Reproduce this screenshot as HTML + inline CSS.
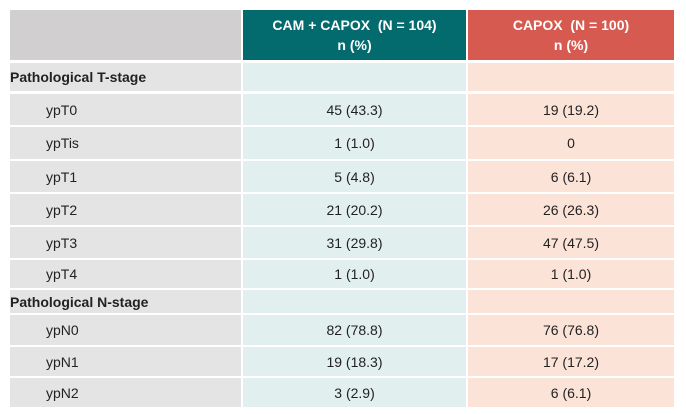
<!DOCTYPE html>
<html><head><style>
body{margin:0;width:686px;height:414px;background:#fff;position:relative;font-family:"Liberation Sans",sans-serif;overflow:hidden}
.c{position:absolute;display:flex;align-items:center;justify-content:center;font-size:14px;color:#222;box-sizing:border-box}
.a{left:10px;width:231px;justify-content:flex-start;background:#e4e4e4}
.b{left:243px;width:223px;background:#e2efef}
.d{left:468px;width:206px;background:#fbe3d8}
.h{font-weight:bold}
.hd{display:block;text-align:center;padding-top:5px;line-height:20px;color:#fff;font-weight:bold}
</style></head><body>
<div class="c a" style="top:10px;height:50px;background:#d1cfd0"></div>
<div class="c b hd" style="top:10px;height:50px;background:#036b6e">CAM + CAPOX&nbsp; (N = 104)<br>n (%)</div>
<div class="c d hd" style="top:10px;height:50px;background:#d65a50">CAPOX&nbsp; (N = 100)<br>n (%)</div>

<div class="c a h" style="top:63px;height:28px">Pathological T-stage</div><div class="c b" style="top:63px;height:28px"></div><div class="c d" style="top:63px;height:28px"></div>
<div class="c a" style="top:94px;height:31px;padding-left:36px">ypT0</div><div class="c b" style="top:94px;height:31px">45 (43.3)</div><div class="c d" style="top:94px;height:31px">19 (19.2)</div>
<div class="c a" style="top:127px;height:32px;padding-left:36px">ypTis</div><div class="c b" style="top:127px;height:32px">1 (1.0)</div><div class="c d" style="top:127px;height:32px">0</div>
<div class="c a" style="top:161px;height:31px;padding-left:36px">ypT1</div><div class="c b" style="top:161px;height:31px">5 (4.8)</div><div class="c d" style="top:161px;height:31px">6 (6.1)</div>
<div class="c a" style="top:194px;height:31px;padding-left:36px">ypT2</div><div class="c b" style="top:194px;height:31px">21 (20.2)</div><div class="c d" style="top:194px;height:31px">26 (26.3)</div>
<div class="c a" style="top:227px;height:31px;padding-left:36px">ypT3</div><div class="c b" style="top:227px;height:31px">31 (29.8)</div><div class="c d" style="top:227px;height:31px">47 (47.5)</div>
<div class="c a" style="top:260px;height:28px;padding-left:36px">ypT4</div><div class="c b" style="top:260px;height:28px">1 (1.0)</div><div class="c d" style="top:260px;height:28px">1 (1.0)</div>
<div class="c a h" style="top:290px;height:23px">Pathological N-stage</div><div class="c b" style="top:290px;height:23px"></div><div class="c d" style="top:290px;height:23px"></div>
<div class="c a" style="top:315px;height:30px;padding-left:36px">ypN0</div><div class="c b" style="top:315px;height:30px">82 (78.8)</div><div class="c d" style="top:315px;height:30px">76 (76.8)</div>
<div class="c a" style="top:347px;height:29px;padding-left:36px">ypN1</div><div class="c b" style="top:347px;height:29px">19 (18.3)</div><div class="c d" style="top:347px;height:29px">17 (17.2)</div>
<div class="c a" style="top:378px;height:29px;padding-left:36px">ypN2</div><div class="c b" style="top:378px;height:29px">3 (2.9)</div><div class="c d" style="top:378px;height:29px">6 (6.1)</div>
</body></html>
